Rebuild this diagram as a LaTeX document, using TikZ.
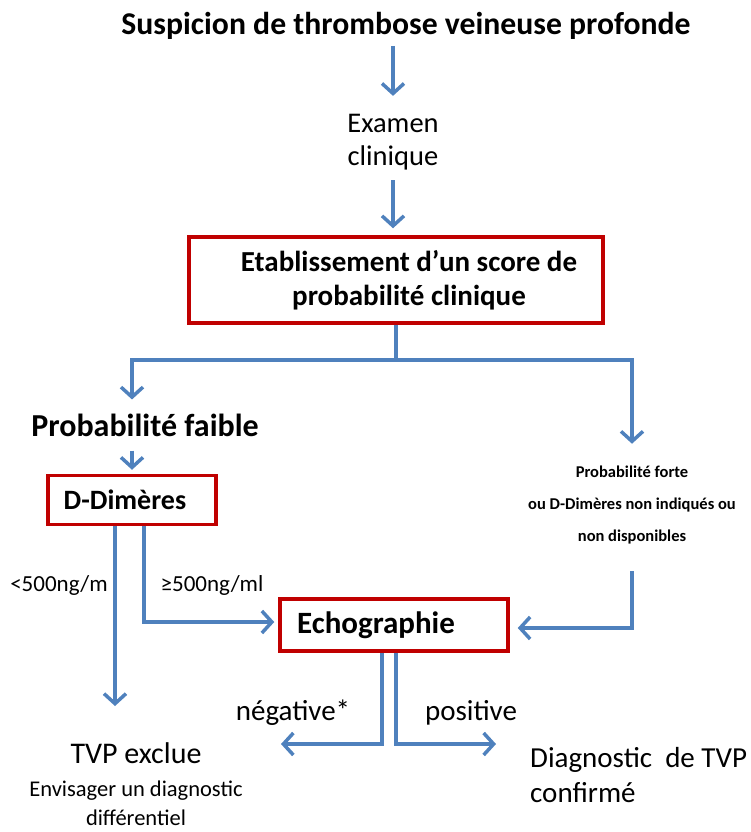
\documentclass[tikz,border=0pt]{standalone}
\usepackage{fontspec}
\setmainfont{Carlito}
\usetikzlibrary{positioning,arrows.meta,calc}
\definecolor{flowblue}{RGB}{79,129,189}
\definecolor{boxred}{RGB}{192,0,0}

\begin{document}
\begin{tikzpicture}[
  x=1pt, y=-1pt,
  redbox/.style={draw=boxred, line width=3.5pt, fill=white, align=center, font=\bfseries},
  txt/.style={align=center, inner sep=0pt},
  link/.style={draw=flowblue, line width=3.5pt, line join=miter},
  flow/.style={link, -{Straight Barb[length=10pt, width=22pt]}},
]
\useasboundingbox (0,0) rectangle (750,832);

% Top of the chart
\node[txt, font=\bfseries\fontsize{31.7}{36}\selectfont] (suspicion) at (406,26) {Suspicion de thrombose veineuse profonde};
\node[txt, font=\fontsize{28.5}{33}\selectfont] (examen) at (393,142) {Examen\\clinique};
\node[redbox, minimum width=414pt, minimum height=86pt, font=\bfseries\fontsize{29}{34}\selectfont] (score) at (396,280) {\hspace*{26pt}Etablissement d’un score de\\\hspace*{26pt}probabilité clinique};

\draw[flow, shorten <=6pt, shorten >=18pt] (suspicion.south -| examen.north) -- (examen.north);
\draw[flow, shorten <=10pt, shorten >=7pt] (examen.south) -- (examen.south |- score.north);

% Branches
\node[txt, font=\bfseries\fontsize{32}{36}\selectfont] (faible) at (145,425) {Probabilité faible};
\node[redbox, minimum width=168pt, minimum height=49pt, font=\bfseries\fontsize{28}{32}\selectfont] (ddimeres) at (132,500) {D-Dimères\hspace*{14pt}};
\node[txt, font=\bfseries\fontsize{16.5}{32}\selectfont] (forte) at (632,505) {Probabilité forte\\ou D-Dimères non indiqués ou\\non disponibles};
\node[redbox, minimum width=228pt, minimum height=52pt, font=\bfseries\fontsize{31}{34}\selectfont] (echo) at (394,625) {Echographie\hspace*{36pt}};

\coordinate (split) at (score.south |- 0,360);
\draw[link] (score.south) -- (split);
\draw[flow, shorten >=14pt] (split) -| (ddimeres.north |- faible.north);
\draw[flow, shorten >=22pt] (split) -| (forte.north);
\draw[flow, shorten <=14pt, shorten >=4pt] (ddimeres.north |- faible.south) -- (ddimeres.north);

% D-Dimeres thresholds
\node[txt, font=\fontsize{23}{26}\selectfont] (lowdd) at (59,585) {<500ng/m};
\node[txt, font=\fontsize{23}{26}\selectfont] (highdd) at (212,585) {≥500ng/ml};

\node[txt, font=\fontsize{30}{34}\selectfont] (exclue) at (136,753) {TVP exclue};
\node[txt, font=\fontsize{22.5}{29}\selectfont, below=17pt of exclue] (diffdiag) {Envisager un diagnostic\\différentiel};
\node[txt, align=left, anchor=west, font=\fontsize{29}{35}\selectfont] (confirme) at (530,775) {Diagnostic\ \ de TVP\\confirmé};

\coordinate (lowend) at ([xshift=-17pt]ddimeres.south |- 0,706);
\draw[flow] ([xshift=-17pt]ddimeres.south) -- (lowend);
\draw[flow, shorten >=4pt] ([xshift=12pt]ddimeres.south) |- ([yshift=3pt]echo.west);
\draw[flow, shorten <=27pt, shorten >=8pt] (forte.south) |- ([yshift=-3pt]echo.east);

% Echographie results
\node[txt, font=\fontsize{29}{32}\selectfont] (negative) at (293,713) {négative*};
\node[txt, font=\fontsize{29}{32}\selectfont] (positive) at (471,713) {positive};
\coordinate (negend) at (281,744);
\coordinate (posend) at (496,744);
\draw[flow] ([xshift=-12pt]echo.south) |- (negend);
\draw[flow] ([xshift=2pt]echo.south) |- (posend);

\end{tikzpicture}
\end{document}
